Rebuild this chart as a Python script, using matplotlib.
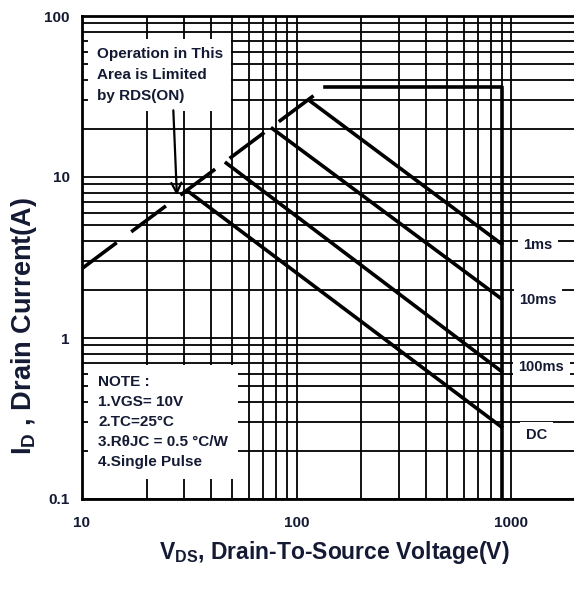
import matplotlib
matplotlib.use("Agg")
import matplotlib.pyplot as plt  # noqa: E402
from matplotlib.ticker import (LogLocator, NullFormatter, FixedLocator,  # noqa: E402
                               FuncFormatter)

plt.rcParams["font.family"] = ["Liberation Sans", "DejaVu Sans"]
plt.rcParams["mathtext.fontset"] = "custom"
plt.rcParams["mathtext.rm"] = "Liberation Sans:bold"
plt.rcParams["mathtext.bf"] = "Liberation Sans:bold"
plt.rcParams["mathtext.it"] = "Liberation Sans:bold"

TXT = "#141a33"

# RDS(on) limit (dashed)
rds_v = [10, 135]
rds_i = [2.7, 36]
# current limit + VDSS limit
lim_v = [135, 900, 900]
lim_i = [36, 36, 0.1]
# pulse-width lines: start (on RDS line) -> end at VDSS
pulse_names = ["1ms", "10ms", "100ms", "DC"]
pulse_v0 = [114, 77, 47, 31]
pulse_i0 = [30, 20, 12.2, 8.2]
pulse_v1 = [900, 900, 900, 900]
pulse_i1 = [3.84, 1.75, 0.62, 0.28]
label_v = [1330, 1330, 1380, 1310]
label_i = [3.8, 1.72, 0.66, 0.25]

fig = plt.figure(figsize=(5.74, 5.98), dpi=100)
ax = fig.add_axes([82 / 574, 99 / 598, 494 / 574, 483 / 598])
ax.set_xscale("log")
ax.set_yscale("log")
ax.set_xlim(10, 2000)
ax.set_ylim(0.1, 100)

# grid: vertical lines only up to 1000
xgrid = [m * 10 ** d for d in (1, 2) for m in range(1, 10)] + [1000]
for xv in xgrid:
    ax.axvline(xv, color="black", lw=1.3, zorder=1)
ax.yaxis.set_major_locator(LogLocator(base=10))
ax.yaxis.set_minor_locator(LogLocator(base=10, subs=range(2, 10)))
ax.yaxis.set_minor_formatter(NullFormatter())
ax.yaxis.set_major_formatter(FuncFormatter(lambda v, p: f"{v:g}"))
ax.grid(True, axis="y", which="both", color="black", lw=1.3, zorder=1)
ax.xaxis.set_major_locator(FixedLocator([10, 100, 1000]))
ax.xaxis.set_minor_locator(FixedLocator([]))
ax.xaxis.set_major_formatter(FuncFormatter(lambda v, p: f"{v:g}"))
ax.tick_params(which="both", length=0, labelsize=11, colors=TXT)
ax.tick_params(axis="x", pad=12)
ax.tick_params(axis="y", pad=9)
for lab in ax.get_xticklabels() + ax.get_yticklabels():
    lab.set_fontweight("bold")
ax.set_axisbelow(True)
for s in ("left", "bottom", "top"):
    ax.spines[s].set_linewidth(2)
ax.spines["right"].set_visible(False)

ax.plot(rds_v, rds_i, color="black", lw=2.6, dashes=(12, 5), zorder=4)
ax.plot(lim_v, lim_i, color="black", lw=2.6, zorder=4)
for v0, i0, v1, i1 in zip(pulse_v0, pulse_i0, pulse_v1, pulse_i1):
    ax.plot([v0, v1], [i0, i1], color="black", lw=2.6, zorder=4)

for name, lv, li in zip(pulse_names, label_v, label_i):
    ax.text(lv, li, name, ha="center", va="center", fontsize=10.5,
            fontweight="bold", color=TXT, zorder=6,
            bbox=dict(facecolor="white", edgecolor="none", pad=4))

ax.text(11.7, 64, "Operation in This\nArea is Limited\nby RDS(ON)", ha="left",
        va="top", fontsize=11, fontweight="bold", color=TXT,
        linespacing=1.62, zorder=6,
        bbox=dict(facecolor="white", edgecolor="none", pad=6))
ax.annotate("", xy=(27.7, 7.4), xytext=(26.6, 27), zorder=7,
            arrowprops=dict(arrowstyle="->", color="black", lw=1.6,
                            mutation_scale=18))

ax.text(11.9, 0.59, "NOTE :\n1.VGS= 10V\n2.TC=25°C\n3.RθJC = 0.5 °C/W\n"
        "4.Single Pulse", ha="left", va="top", fontsize=11,
        fontweight="bold", color=TXT, linespacing=1.55, zorder=6,
        bbox=dict(facecolor="white", edgecolor="none", pad=7))

fig.text(334 / 574, 1 - 553 / 598, r"$\mathbf{V_{DS}}$, Drain-To-Source Voltage(V)",
         ha="center", va="center", fontsize=16.5, fontweight="bold", color=TXT)
fig.text(24 / 574, 1 - 326 / 598, r"$\mathbf{I_{D}}$ , Drain Current(A)",
         ha="center", va="center", rotation=90, fontsize=19.5,
         fontweight="bold", color=TXT)

fig.savefig("out.png", dpi=100)
